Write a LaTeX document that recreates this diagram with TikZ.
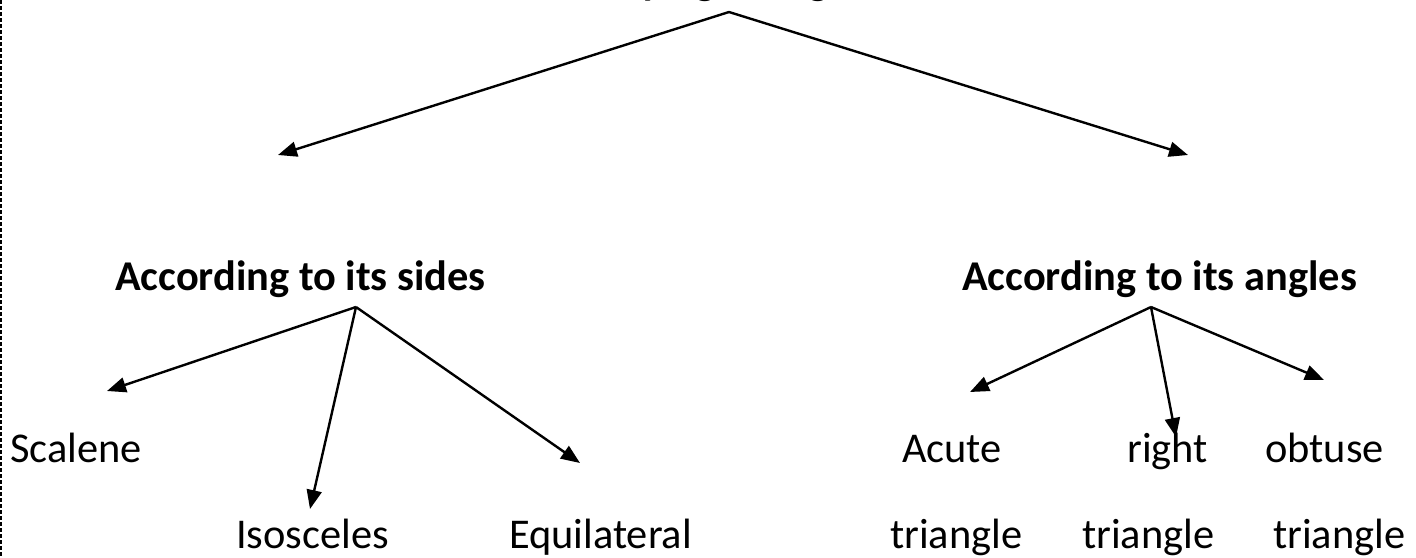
\documentclass[tikz,border=0pt]{standalone}
\usepackage{fontspec}
\setmainfont{Carlito}
\usetikzlibrary{arrows.meta}
\tikzset{
  lbl/.style={inner sep=0pt, anchor=base west, font=\fontsize{42.4}{50}\selectfont},
  hdr/.style={lbl, font=\fontsize{42.4}{50}\selectfont\bfseries},
  arr/.style={line width=2.4pt, -{Triangle[length=19pt,width=15pt]}},
  edge/.style={line width=2pt, dash pattern=on 4pt off 2pt}
}
\begin{document}
\begin{tikzpicture}[x=1pt,y=-1pt]
\useasboundingbox (0,0) rectangle (1416,557);
\clip (0,0) rectangle (1416,557);
% left page edge
\coordinate (et) at (1,0);
\coordinate (eb) at (1,557);
\draw[edge] (et) -- (eb);
% title (cut off at the top, as in the reference)
\node[hdr] (title) at (530,-6) {Classifying triangles};
% headings
\node[hdr] (sides) at (115,290) {According to its sides};
\node[hdr] (angles) at (962,290) {According to its angles};
% leaves
\node[lbl] (scalene) at (10,462) {Scalene};
\node[lbl] (isosceles) at (236,548) {Isosceles};
\node[lbl] (equi) at (509,548) {Equilateral};
\node[lbl] (acute) at (902,462) {Acute};
\node[lbl] (right) at (1127,462) {right};
\node[lbl] (obtuse) at (1265,462) {obtuse};
\node[lbl] (t1) at (890,548) {triangle};
\node[lbl] (t2) at (1082,548) {triangle};
\node[lbl] (t3) at (1273,548) {triangle};
% connector points
\coordinate (topA) at (729,12);
\coordinate (topL) at (278,155);
\coordinate (topR) at (1188,155);
\coordinate (sA) at (356,307);
\coordinate (sL) at (107,391);
\coordinate (sM) at (310,509);
\coordinate (sR) at (580,463);
\coordinate (aA) at (1151,307);
\coordinate (aL) at (970,392);
\coordinate (aM) at (1176,437);
\coordinate (aR) at (1324,380);
% arrows
\draw[arr] (topA) -- (topL);
\draw[arr] (topA) -- (topR);
\draw[arr] (sA) -- (sL);
\draw[arr] (sA) -- (sM);
\draw[arr] (sA) -- (sR);
\draw[arr] (aA) -- (aL);
\draw[arr] (aA) -- (aM);
\draw[arr] (aA) -- (aR);
\end{tikzpicture}
\end{document}
